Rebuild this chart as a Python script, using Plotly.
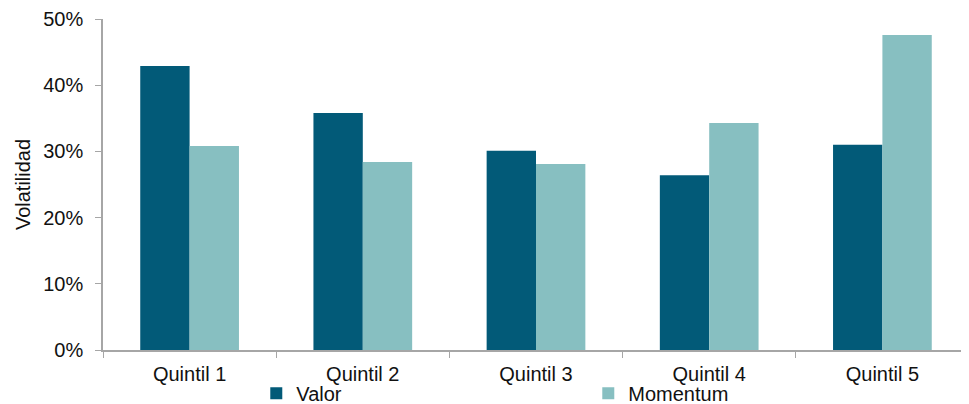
import plotly.graph_objects as go

quintiles = ["Quintil 1", "Quintil 2", "Quintil 3", "Quintil 4", "Quintil 5"]
valor = [0.429, 0.358, 0.301, 0.264, 0.310]
momentum = [0.308, 0.284, 0.281, 0.343, 0.476]

FONT = "Liberation Sans, Arial, sans-serif"
AXIS = "#A6A6A6"

fig = go.Figure()
fig.add_trace(go.Bar(x=quintiles, y=valor, name="Valor",
                     marker=dict(color="#025A78", line=dict(width=0))))
fig.add_trace(go.Bar(x=quintiles, y=momentum, name="Momentum",
                     marker=dict(color="#87BFC1", line=dict(width=0))))

# page body has an 8px margin, so the figure is offset by 8px
fig.update_layout(
    width=961, height=396,
    paper_bgcolor="white", plot_bgcolor="white",
    font=dict(family=FONT, size=20, color="#111111"),
    margin=dict(l=95, r=0, t=11, b=54, autoexpand=False),
    barmode="group", bargap=0.43, bargroupgap=0,
    showlegend=True,
    legend=dict(orientation="h", x=0.177, xanchor="left", y=-0.072, yanchor="top",
                entrywidth=287, itemwidth=30, bgcolor="rgba(0,0,0,0)",
                font=dict(size=20), traceorder="normal"),
)
fig.update_xaxes(showline=True, linecolor=AXIS, linewidth=1.5,
                 ticks="outside", tickson="boundaries", ticklen=6, tickcolor=AXIS,
                 ticklabelstandoff=5, showgrid=False)
fig.update_yaxes(range=[0, 0.5], dtick=0.1, tickformat=".0%",
                 showline=True, linecolor=AXIS, linewidth=1.5,
                 ticks="outside", ticklen=6, tickcolor=AXIS, showgrid=False,
                 ticklabelstandoff=8, zeroline=False,
                 title=dict(text="Volatilidad", standoff=7, font=dict(size=20)))

fig.write_html("out.html")
